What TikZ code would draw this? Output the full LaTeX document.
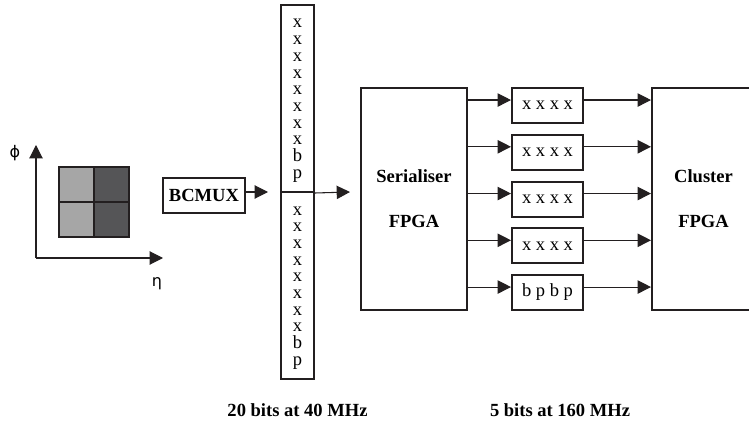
\documentclass[tikz,border=0pt]{standalone}
\usepackage{fontspec}
\setmainfont{Liberation Serif}
\newfontfamily\grk{DejaVu Sans}
\usepackage{tikz}
\usetikzlibrary{arrows.meta}
\definecolor{darkLine}{HTML}{231F20}
\definecolor{lightCell}{HTML}{A6A6A6}
\definecolor{darkCell}{HTML}{555557}

\begin{document}
\begin{tikzpicture}[x=0.75pt,y=-0.75pt,
  every node/.style={font=\fontsize{13.9}{16}\selectfont},
  box/.style={draw=darkLine,line width=1.5pt,inner sep=0pt},
  cell/.style={draw=darkLine,line width=1pt,minimum size=26.25pt,inner sep=0pt},
  sig/.style={draw=darkLine,line width=0.8pt,-{Triangle[length=10pt,width=10pt]}},
  bit/.style={anchor=base,inner sep=0pt}]
\useasboundingbox (0,0) rectangle (749,424);
% eta-phi cells
\node[cell,fill=lightCell] (c11) at (76.5,184.5) {};
\node[cell,fill=darkCell] (c12) at (111.5,184.5) {};
\node[cell,fill=lightCell] (c21) at (76.5,219.5) {};
\node[cell,fill=darkCell] (c22) at (111.5,219.5) {};
% axes
\coordinate (o) at (36,258);
\coordinate (phiEnd) at (36,145);
\coordinate (etaEnd) at (163,258);
\draw[sig] (o)--(phiEnd);
\draw[sig] (o)--(etaEnd);
\node[font=\grk\fontsize{12}{14}\selectfont] (phi) at (15,153) {ϕ};
\node[font=\grk\fontsize{12}{14}\selectfont] (eta) at (157,284) {η};
% mux and 20 bit word
\node[box,minimum width=61.5pt,minimum height=26.25pt] (bcmux) at (204,195.5) {\textbf{BCMUX}};
\node[box,minimum width=24.75pt,minimum height=140.25pt] (colTop) at (297.5,98.5) {};
\node[box,minimum width=24.75pt,minimum height=140.25pt] (colBot) at (297.5,285.5) {};
\foreach \c [count=\k from 0] in {x,x,x,x,x,x,x,x,b,p} {
  \node[bit] (t\k) at (297.5,28+16.7*\k) {\c};
  \node[bit] (u\k) at (297.5,215+16.7*\k) {\c};
}
\coordinate (colIn) at (268,192);
\coordinate (serIn) at (350,192);
\draw[sig] (bcmux.east |- colIn)--(colIn);
\draw[sig] (colTop.south east)--(serIn);
% FPGAs
\node[box,minimum width=79.5pt,minimum height=166.5pt,align=center] (ser) at (414,199) {\textbf{Serialiser}\\[17.75pt]\textbf{FPGA}};
\node[box,minimum width=77.25pt,minimum height=166.5pt,align=center] (clu) at (703.5,199) {\textbf{Cluster}\\[17.75pt]\textbf{FPGA}};
% 5 bit links
\foreach \i/\t in {1/x x x x,2/x x x x,3/x x x x,4/x x x x,5/b p b p} {
  \node[box,minimum width=53.25pt,minimum height=26.25pt] (b\i) at (547.5,{105.5+46.75*(\i-1)}) {\t};
  \coordinate (p\i) at ([yshift=4.1pt]b\i.west);
  \coordinate (q\i) at ([yshift=4.1pt]b\i.east);
  \draw[sig] (ser.east |- p\i)--(p\i);
  \draw[sig] (q\i)--(clu.west |- q\i);
}
\node (rate1) at (297.5,410) {\textbf{20 bits at 40 MHz}};
\node (rate2) at (560,410) {\textbf{5 bits at 160 MHz}};
\end{tikzpicture}
\end{document}
